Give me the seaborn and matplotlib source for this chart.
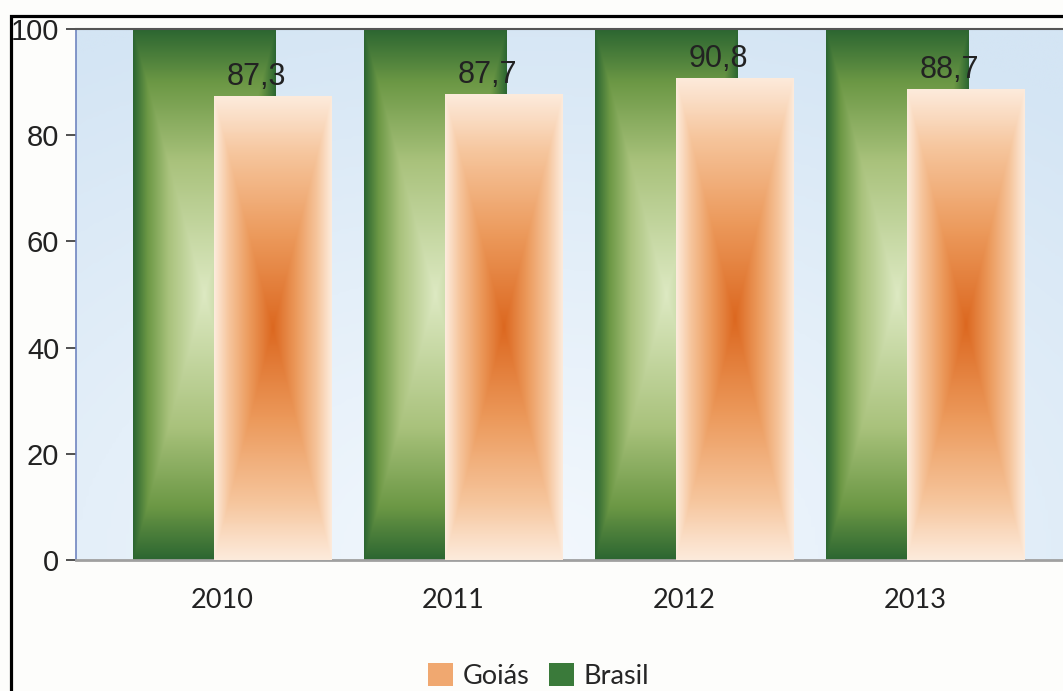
import numpy as np
import pandas as pd
import matplotlib
matplotlib.use('Agg')
import matplotlib.pyplot as plt
import seaborn as sns
from matplotlib.colors import LinearSegmentedColormap
from matplotlib.patches import Rectangle, Patch

years = ['2010', '2011', '2012', '2013']
brasil = [100, 100, 100, 100]
goias = [87.3, 87.7, 90.8, 88.7]
goias_labels = ['87,3', '87,7', '90,8', '88,7']

sns.set_theme(style='white')
plt.rcParams['font.family'] = ['Liberation Sans', 'DejaVu Sans']

W, H = 1063, 691
fig = plt.figure(figsize=(W / 100, H / 100), dpi=100, facecolor='#fdfdfb')
ax = fig.add_axes([76 / W, 1 - 560 / H, 1 - 76 / W, (560 - 29) / H])

df = pd.DataFrame({'ano': years, 'Brasil': brasil, 'Goiás': goias})
sns.barplot(data=df, x='ano', y='Brasil', color='#3a7a3a', width=0.615, ax=ax)
n_green = len(ax.patches)
sns.barplot(data=df, x='ano', y='Goiás', color='#f0a870', width=0.51, ax=ax)

green_cmap = LinearSegmentedColormap.from_list(
    'g', [(0, '#dde9c2'), (0.5, '#a9c27c'), (0.8, '#6c9845'), (1, '#2c6631')])
orange_cmap = LinearSegmentedColormap.from_list(
    'o', [(0, '#dc6820'), (0.4, '#ec9a5c'), (0.75, '#f6c59c'), (1, '#fdebdc')])


def box_gradient(patch, cmap, zorder):
    x, y = patch.get_x(), patch.get_y()
    w, h = patch.get_width(), patch.get_height()
    U, V = np.meshgrid(np.linspace(-1, 1, 200), np.linspace(-1, 1, 500))
    T = np.maximum(np.abs(U), np.abs(V))
    im = ax.imshow(T, cmap=cmap, vmin=0, vmax=1, extent=[x, x + w, y, y + h],
                   aspect='auto', origin='lower', zorder=zorder, interpolation='bilinear')
    im.set_clip_path(patch)
    patch.set_facecolor('none')
    patch.set_edgecolor('none')


# green bars slightly left, orange bars overlapping on the right
for i, p in enumerate(ax.patches):
    if i < n_green:
        p.set_x(p.get_x() - 0.078)
        box_gradient(p, green_cmap, 2)
    else:
        p.set_x(p.get_x() + 0.221)
        box_gradient(p, orange_cmap, 3)

# plot background
gy, gx = np.mgrid[0:1:200j, 0:1:300j]
r = np.clip(np.sqrt(((gx - 0.45) / 0.9) ** 2 + ((gy - 0.0) / 1.1) ** 2), 0, 1)
bg_cmap = LinearSegmentedColormap.from_list('b', ['#f3f8fd', '#e4eff9', '#d4e5f4'])
ax.imshow(r, cmap=bg_cmap, extent=[0, 1, 0, 1], transform=ax.transAxes,
          aspect='auto', origin='lower', zorder=0, interpolation='bilinear')

for i, lab in enumerate(goias_labels):
    ax.text(i + 0.15, goias[i] + 0.8, lab, ha='center', va='bottom',
            fontsize=22, color='#222222', zorder=5)

ax.set_xlim(-0.632, 3.641)
ax.set_ylim(0, 100)
ax.set_yticks([0, 20, 40, 60, 80, 100])
ax.set_xlabel('')
ax.set_ylabel('')
ax.tick_params(axis='y', direction='out', length=7, width=1.2, color='#333333',
               labelsize=21, pad=5, left=True)
ax.tick_params(axis='x', length=0, pad=20)
for t in ax.get_xticklabels():
    t.set_fontfamily(['Lato', 'DejaVu Sans'])
    t.set_fontsize(19.5)
    t.set_color('#222222')
for t in ax.get_yticklabels():
    t.set_color('#222222')

ax.spines['right'].set_visible(False)
ax.spines['left'].set_color('#7085c0')
ax.spines['left'].set_linewidth(1.2)
ax.spines['bottom'].set_color('#a0a0a0')
ax.spines['bottom'].set_linewidth(2)
ax.spines['top'].set_color('#555555')
ax.spines['top'].set_linewidth(1.5)

handles = [Patch(facecolor='#f0a870', edgecolor='none'),
           Patch(facecolor='#3a7a3a', edgecolor='none')]
fig.legend(handles, ['Goiás', 'Brasil'], loc='center',
           bbox_to_anchor=(0.507, 1 - 676 / H), ncol=2, frameon=False,
           handlelength=0.9, handleheight=0.9, handletextpad=0.38, columnspacing=0.72,
           borderpad=0, prop={'family': ['Lato', 'DejaVu Sans'], 'size': 19.5})

fig.patches.append(Rectangle((11 / W, -0.1), 1.2, 1.1 - 15.5 / H, transform=fig.transFigure,
                             fill=False, lw=2.3, ec='black', zorder=10))

fig.savefig('out.png', dpi=100, facecolor=fig.get_facecolor())
